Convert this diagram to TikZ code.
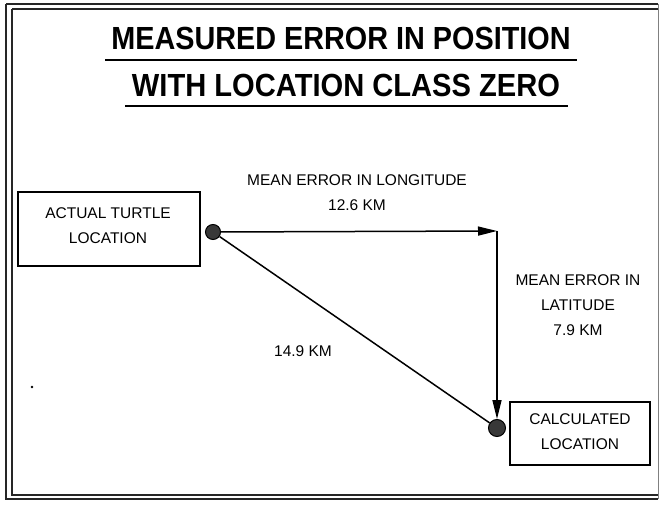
\documentclass[tikz,border=0pt]{standalone}
\usepackage{fontspec}
\setmainfont{Liberation Sans}
\usetikzlibrary{arrows.meta}
\begin{document}
\begin{tikzpicture}[x=1pt,y=-1pt,
  framel/.style={line width=1.1pt,black!85},
  labelbox/.style={draw,line width=1.2pt,inner sep=0pt},
  lbl/.style={font=\fontsize{15.5}{25}\selectfont,align=center,inner sep=0pt},
  ttl/.style={font=\fontsize{32}{36}\selectfont\bfseries,inner sep=0pt,anchor=base},
  uline/.style={line width=1.5pt},
  ball/.style={circle,draw,line width=1pt,fill=black!78,inner sep=0pt,minimum size=15pt},
  conn/.style={line width=1.5pt},
  tip/.style={-{Triangle[length=19pt,width=9pt]}}
]
\useasboundingbox (0,0) rectangle (659,505);
% frame
\draw[framel] (6,4) -- (658,4);
\draw[framel] (12,9) -- (658,9);
\draw[framel] (6,4) -- (6,499) -- (658,499);
\draw[framel] (12,9) -- (12,495) -- (658,495);
\draw[line width=0.6pt,black!50] (658,4) -- (658,499);
% title
\node[ttl] (t1) at (341,50) {\scalebox{0.9}[1]{MEASURED ERROR IN POSITION}};
\node[ttl] (t2) at (346,97) {\scalebox{0.91}[1]{WITH LOCATION CLASS ZERO}};
\coordinate (u1a) at (105,60); \coordinate (u1b) at (577,60);
\coordinate (u2a) at (125,106); \coordinate (u2b) at (568,106);
\draw[uline] (u1a) -- (u1b);
\draw[uline] (u2a) -- (u2b);
% boxes
\node[labelbox,minimum width=182pt,minimum height=74pt] (actual) at (109,229) {};
\node[lbl] (actualtxt) at (108,225.5) {ACTUAL TURTLE\\LOCATION};
\node[labelbox,minimum width=140pt,minimum height=63pt] (calc) at (580,433.5) {};
\node[lbl] (calctxt) at (580,431.5) {CALCULATED\\LOCATION};
% points
\node[ball] (A) at (213,232) {};
\node[ball,minimum size=17pt] (B) at (497,428) {};
\coordinate (corner) at (497,231);
% connectors
\draw[conn,tip] (A) -- (corner);
\draw[conn,tip] (corner) -- (B.north);
\draw[conn] (A) -- (B);
% labels
\node[lbl] (lon) at (357,192.5) {MEAN ERROR IN LONGITUDE\\12.6 KM};
\node[lbl] (lat) at (578,305) {MEAN ERROR IN\\LATITUDE\\7.9 KM};
\node[lbl] (diag) at (303,351) {14.9 KM};
% speck
\coordinate (speck) at (32,387);
\fill (speck) circle (1.3);
\end{tikzpicture}
\end{document}
